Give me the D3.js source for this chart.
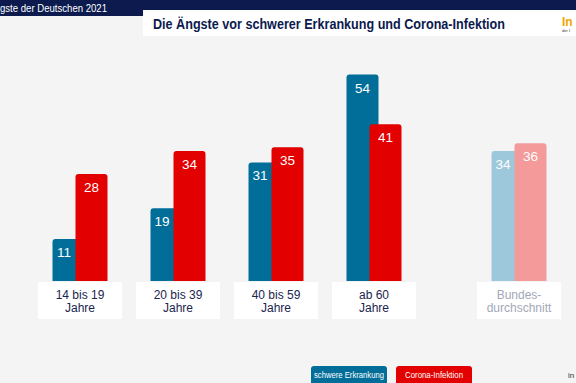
<!DOCTYPE html>
<html><head><meta charset="utf-8">
<script src="https://cdn.jsdelivr.net/npm/d3@7"></script>
<style>body{margin:0;background:#f4f4f4;}svg{display:block;font-family:"Liberation Sans",Arial,sans-serif;}</style>
</head><body>
<script>
const categories = ["14 bis 19|Jahre", "20 bis 39|Jahre", "40 bis 59|Jahre", "ab 60|Jahre", "Bundes-|durchschnitt"];
const schwereErkrankung = [11, 19, 31, 54, 34];
const coronaInfektion = [28, 34, 35, 41, 36];
const seriesNames = ["schwere Erkrankung", "Corona-Infektion"];
const titleText = "Die Ängste vor schwerer Erkrankung und Corona-Infektion";
const headerText = "gste der Deutschen 2021";

const W = 576, H = 383;
const svg = d3.select("body").append("svg").attr("width", W).attr("height", H);
svg.append("rect").attr("width", W).attr("height", H).attr("fill", "#f4f4f4");

// header
svg.append("rect").attr("x", 0).attr("y", 0).attr("width", W).attr("height", 16).attr("fill", "#0c1a4e");
svg.append("text").attr("x", 0).attr("y", 12).attr("fill", "#fff").attr("font-size", 10)
  .attr("textLength", 107).attr("lengthAdjust", "spacingAndGlyphs").text(headerText);
svg.append("rect").attr("x", 143).attr("y", 10).attr("width", W - 143).attr("height", 26).attr("fill", "#fff");
svg.append("text").attr("x", 153).attr("y", 28.5).attr("fill", "#0c1a4e")
  .attr("font-size", 14.5).attr("font-weight", "bold")
  .attr("textLength", 352).attr("lengthAdjust", "spacingAndGlyphs").text(titleText);
svg.append("text").attr("x", 562).attr("y", 26).attr("fill", "#f0a500").attr("font-size", 12).attr("font-weight", "bold").text("In");
svg.append("text").attr("x", 562).attr("y", 32).attr("fill", "#333").attr("font-size", 4).text("der I");

// scales
const centers = [80, 178, 276, 374, 519];
const x = d3.scaleOrdinal().domain(d3.range(categories.length)).range(centers);
const y = d3.scaleLinear().domain([0, 54]).range([281, 74.5]);
const bw = 32, off = 23;

function roundTop(x0, y0, w, h, r) {
  return `M${x0},${y0 + h}V${y0 + r}Q${x0},${y0} ${x0 + r},${y0}H${x0 + w - r}Q${x0 + w},${y0} ${x0 + w},${y0 + r}V${y0 + h}Z`;
}

const colors = {
  blue: ["#006e99", "#006e99", "#006e99", "#006e99", "#9dc7db"],
  red: ["#e30000", "#e30000", "#e30000", "#e30000", "#f49a9a"]
};

categories.forEach((c, i) => {
  const cx = x(i);
  const bx = cx - (bw + off) / 2;
  const rx = bx + off;
  const vb = schwereErkrankung[i], vr = coronaInfektion[i];
  svg.append("path").attr("d", roundTop(bx, y(vb), bw, y(0) - y(vb), 3)).attr("fill", colors.blue[i]);
  svg.append("path").attr("d", roundTop(rx, y(vr), bw, y(0) - y(vr), 3)).attr("fill", colors.red[i]);
  const blx = vb > vr ? bx + bw / 2 : bx + off / 2;
  svg.append("text").attr("x", blx).attr("y", y(vb) + 18).attr("text-anchor", "middle")
    .attr("fill", "#fff").attr("font-size", 13.5).text(vb);
  svg.append("text").attr("x", rx + bw / 2).attr("y", y(vr) + 18).attr("text-anchor", "middle")
    .attr("fill", "#fff").attr("font-size", 13.5).text(vr);
  // label box
  svg.append("rect").attr("x", cx - 42).attr("y", 282).attr("width", 84).attr("height", 37).attr("fill", "#fff");
  const lines = c.split("|");
  const col = i === 4 ? "#a3a8b8" : "#1b2550";
  lines.forEach((l, j) => {
    svg.append("text").attr("x", cx).attr("y", 299 + j * 13).attr("text-anchor", "middle")
      .attr("fill", col).attr("font-size", 12).text(l);
  });
});

// legend
const leg = [{x: 311, w: 76, c: "#006e99"}, {x: 396, w: 76, c: "#e30000"}];
const legTextW = [70, 58];
seriesNames.forEach((s, i) => {
  svg.append("rect").attr("x", leg[i].x).attr("y", 366).attr("width", leg[i].w).attr("height", 22).attr("rx", 3).attr("fill", leg[i].c);
  svg.append("text").attr("x", leg[i].x + (leg[i].w - legTextW[i]) / 2).attr("y", 378)
    .attr("fill", "#fff").attr("font-size", 8.5)
    .attr("textLength", legTextW[i]).attr("lengthAdjust", "spacingAndGlyphs").text(s);
});
svg.append("text").attr("x", 568).attr("y", 378).attr("fill", "#333").attr("font-size", 8).text("in");
</script>
</body></html>
